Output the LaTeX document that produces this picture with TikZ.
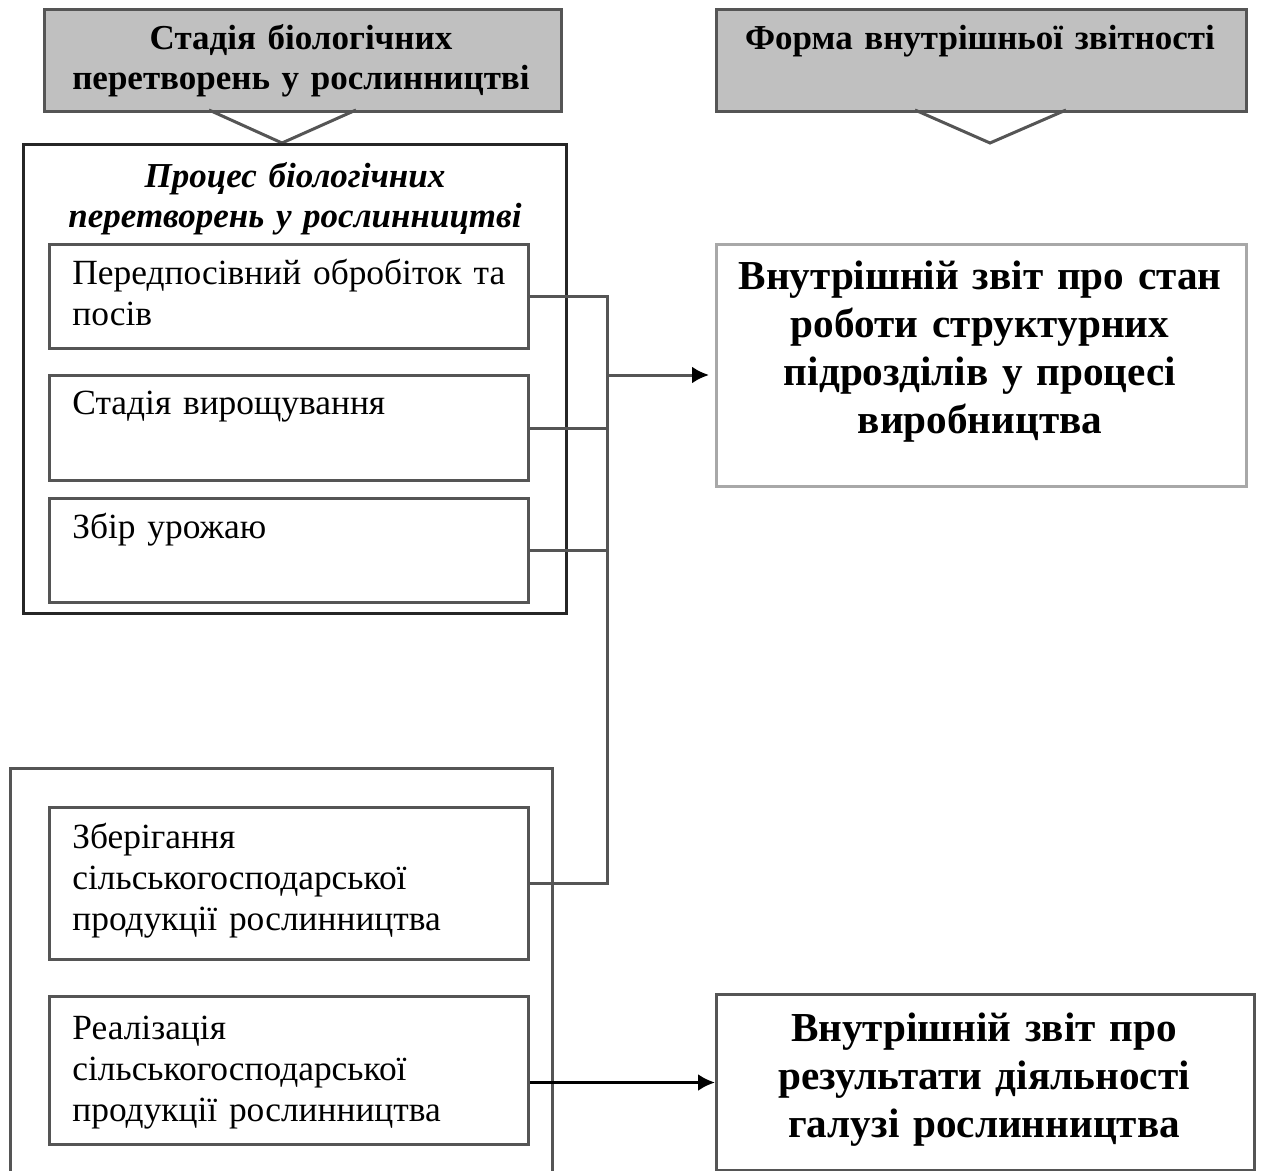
\documentclass[tikz,border=0pt]{standalone}
\usepackage{fontspec}
\setmainfont{Liberation Serif}
\usetikzlibrary{positioning,arrows.meta}
\definecolor{boxline}{HTML}{555555}
\definecolor{hdrfill}{HTML}{C0C0C0}
\definecolor{paleline}{HTML}{A8A8A8}

\begin{document}
\begin{tikzpicture}[x=0.5pt, y=-0.5pt,
	frame/.style={draw=boxline, line width=1.5pt, anchor=north west, inner sep=0pt},
	header/.style={frame, fill=hdrfill, minimum height=51pt},
	stagebox/.style={frame, minimum width=239.5pt},
	report/.style={frame},
	link/.style={draw=boxline, line width=1.5pt},
	tip/.style={-{Latex[length=8.5pt, width=8.5pt, color=black]}},
	plain/.style={anchor=base west, inner sep=0pt, text width=230pt, align=left,
		font=\fontsize{17.7}{20.5}\selectfont},
	boldtxt/.style={anchor=base, inner sep=0pt, text width=262pt, align=center,
		font=\bfseries\fontsize{17.5}{20}\selectfont},
	reptxt/.style={anchor=base, inner sep=0pt, text width=262pt, align=center,
		font=\bfseries\fontsize{20.6}{24}\selectfont}]
\useasboundingbox (0,0) rectangle (1262,1171);

% headers
\node[header, minimum width=258.5pt] (stage) at (43,8) {};
\node[boldtxt] (stagetxt) at (301,50) {Стадія біологічних\\перетворень у рослинництві};
\node[header, minimum width=265pt] (form) at (715,8) {};
\node[boldtxt] (formtxt) at (980,50) {Форма внутрішньої звітності};

\draw[link] (209,110) -- (282,143) -- (356,110);
\draw[link] (915,110) -- (990,143) -- (1066,110);

% process of biological transformations
\node[frame, draw=black!85, minimum width=271.5pt, minimum height=234.5pt] (proc) at (22,143) {};
\node[boldtxt, font=\bfseries\itshape\fontsize{17.5}{20}\selectfont] (proctxt) at (295,188)
	{Процес біологічних\\перетворень у рослинництві};

\node[stagebox, minimum height=52pt] (sow) at (48,243) {};
\node[plain] (sowtxt) at (72,285) {Передпосівний обробіток та\\посів};
\node[stagebox, minimum height=52.5pt] (grow) at (48,374) {};
\node[plain] (growtxt) at (72,414) {Стадія вирощування};
\node[stagebox, minimum height=52pt] (harvest) at (48,497) {};
\node[plain] (harvesttxt) at (72,538) {Збір урожаю};

% storage and sale
\draw[link] (10,1180) -- (10,768) -- (552,768) -- (552,1180);
\node[stagebox, minimum height=76pt] (store) at (48,806) {};
\node[plain] (storetxt) at (72,848) {Зберігання\\сільськогосподарської\\продукції рослинництва};
\node[stagebox, minimum height=74pt] (sell) at (48,995) {};
\node[plain] (selltxt) at (72,1039) {Реалізація\\сільськогосподарської\\продукції рослинництва};

% reports
\node[report, draw=paleline, minimum width=265pt, minimum height=121pt] (rep1) at (715,243) {};
\node[reptxt] (rep1txt) at (980,290)
	{Внутрішній звіт про стан\\роботи структурних\\підрозділів у процесі\\виробництва};
\node[report, minimum width=269pt, minimum height=88pt] (rep2) at (715,993) {};
\node[reptxt] (rep2txt) at (984,1041)
	{Внутрішній звіт про\\результати діяльності\\галузі рослинництва};

% connectors
\coordinate (bus) at (607,0);
\coordinate (tap) at (607,375);
\draw[link] (sow.east) -- (sow.east -| bus) -- (store.east -| bus) -- (store.east);
\draw[link] (grow.east) -- (grow.east -| bus);
\draw[link] (harvest.east) -- (harvest.east -| bus);
\draw[link, tip, shorten >=3pt] (tap) -- (tap -| rep1.west);
\draw[link, draw=black, tip] (sell.east |- rep2.west) -- (rep2.west);
\end{tikzpicture}
\end{document}
